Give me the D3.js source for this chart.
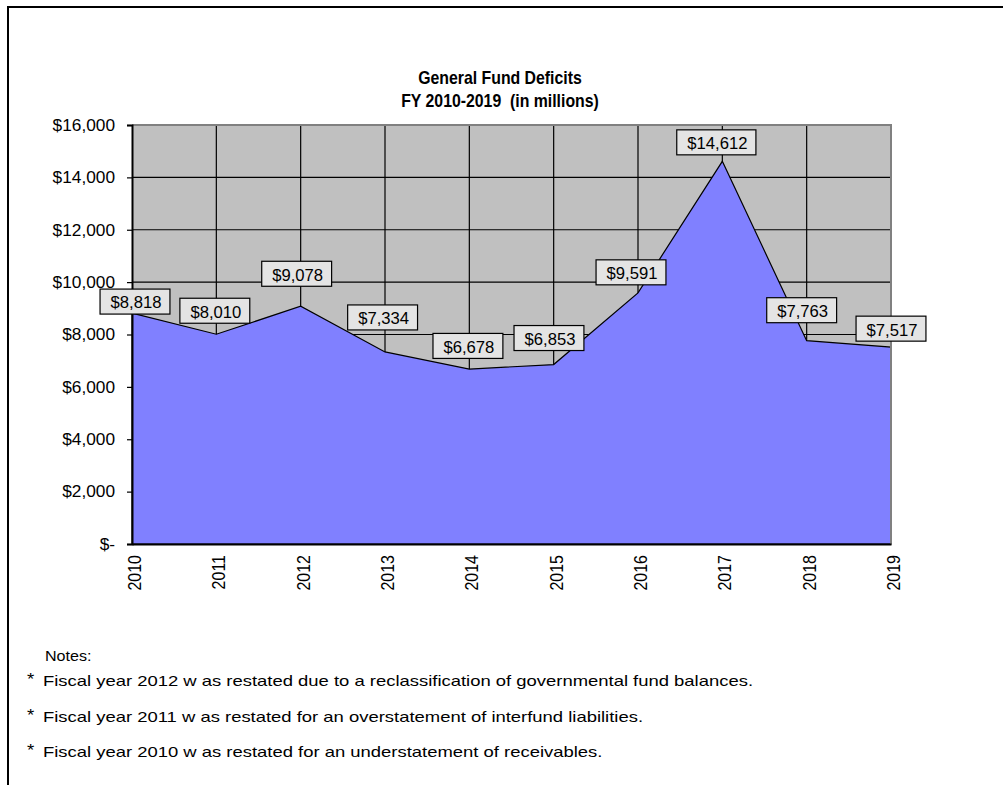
<!DOCTYPE html>
<html>
<head>
<meta charset="utf-8">
<script src="https://cdn.jsdelivr.net/npm/d3@7"></script>
<style>
  body { margin: 0; background: #fff; }
  text { font-family: "Liberation Sans", Arial, sans-serif; fill: #000; white-space: pre; }
</style>
</head>
<body>
<svg id="chart" width="1003" height="785"></svg>
<script>
// ---- data ----
const years = ["2010", "2011", "2012", "2013", "2014", "2015", "2016", "2017", "2018", "2019"];
const deficits = [8818, 8010, 9078, 7334, 6678, 6853, 9591, 14612, 7763, 7517];
const yTicks = [0, 2000, 4000, 6000, 8000, 10000, 12000, 14000, 16000];
const titleLines = ["General Fund Deficits", "FY 2010-2019  (in millions)"];
const notesHeading = "Notes:";
const notes = [
  "Fiscal year 2012 w as restated due to a reclassification of governmental fund balances.",
  "Fiscal year 2011 w as restated for an overstatement of interfund liabilities.",
  "Fiscal year 2010 w as restated for an understatement of receivables."
];

// ---- label placement nudges (pixels) ----
const labelShiftX = [3, -1.5, -4, -2.4, -1.4, -4.7, -7, -6, -5, 0];
const labelLift = [-1, 11, 20, 22, 10.7, 14, 8, 6.5, 18, 6];

const svg = d3.select("#chart");

const plot = { left: 132, right: 891, top: 125, bottom: 544 };

const x = d3.scalePoint().domain(years).range([plot.left, plot.right]);
const y = d3.scaleLinear().domain([0, 16000]).range([plot.bottom, plot.top]);

// outer frame (top and left edges)
svg.append("path")
  .attr("d", `M8,785 V7 H1003`)
  .attr("fill", "none").attr("stroke", "#000").attr("stroke-width", 2);

// text with a horizontal glyph stretch factor k
function placeText(sel, px, py, k, extra) {
  return sel.attr("transform", `translate(${px},${py}) scale(${k},1)` + (extra || ""));
}

// title
titleLines.forEach((t, i) => {
  placeText(svg.append("text"), 500, 84 + i * 23, 0.88)
    .attr("text-anchor", "middle")
    .attr("font-size", 18).attr("font-weight", "bold")
    .text(t);
});

// plot background
svg.append("rect")
  .attr("x", plot.left).attr("y", plot.top)
  .attr("width", plot.right - plot.left).attr("height", plot.bottom - plot.top)
  .attr("fill", "#c0c0c0");

// gridlines
svg.append("g").selectAll("line")
  .data(yTicks.filter(d => d > 0 && d < 16000))
  .join("line")
  .attr("x1", plot.left).attr("x2", plot.right)
  .attr("y1", d => y(d)).attr("y2", d => y(d))
  .attr("stroke", "#000").attr("stroke-width", 1.2);

svg.append("g").selectAll("line")
  .data(years.slice(1, -1))
  .join("line")
  .attr("x1", d => x(d)).attr("x2", d => x(d))
  .attr("y1", plot.top).attr("y2", plot.bottom)
  .attr("stroke", "#000").attr("stroke-width", 1.2);

// area
const area = d3.area()
  .x((d, i) => x(years[i]))
  .y0(y(0))
  .y1(d => y(d));

svg.append("path")
  .datum(deficits)
  .attr("d", area)
  .attr("fill", "#8080ff")
  .attr("stroke", "#000").attr("stroke-width", 1.2)
  .attr("stroke-linejoin", "miter");

// plot border (top and right)
svg.append("path")
  .attr("d", `M${plot.left},${plot.top} H${plot.right} V${plot.bottom}`)
  .attr("fill", "none").attr("stroke", "#808080").attr("stroke-width", 2);

// y axis
const yAxis = d3.axisLeft(y)
  .tickValues(yTicks)
  .tickSize(5)
  .tickPadding(12)
  .tickFormat(d => d === 0 ? "$-" : "$" + d3.format(",")(d));

const gy = svg.append("g").attr("transform", `translate(${plot.left},0)`).call(yAxis);
gy.select(".domain").attr("stroke", "#000").attr("stroke-width", 2);
gy.selectAll(".tick line").attr("stroke", "#000").attr("stroke-width", 1.2);
gy.selectAll(".tick text").each(function () {
  const t = d3.select(this);
  const tx = +t.attr("x");
  t.attr("x", null).attr("dy", null)
    .attr("dominant-baseline", "central")
    .attr("font-family", null)
    .attr("font-size", 16)
    .attr("transform", `translate(${tx},0) scale(1.08,1)`);
});

// x axis
const xAxis = d3.axisBottom(x).tickSize(0).tickPadding(0);
const gx = svg.append("g").attr("transform", `translate(0,${plot.bottom})`).call(xAxis);
gx.select(".domain").attr("stroke", "#000").attr("stroke-width", 2);
gx.selectAll(".tick text")
  .attr("y", null).attr("dy", null)
  .attr("font-family", null)
  .attr("font-size", 16)
  .attr("text-anchor", "end")
  .attr("dominant-baseline", "central")
  .attr("transform", `translate(2,11) scale(1.15,1) rotate(-90)`);

// value labels
const LK = 1.04;
const labels = svg.append("g").selectAll("g")
  .data(deficits)
  .join("g");

labels.each(function (d, i) {
  const g = d3.select(this);
  const txt = g.append("text")
    .attr("font-size", 16)
    .attr("text-anchor", "middle")
    .attr("dominant-baseline", "central")
    .text("$" + d3.format(",")(d));
  const w = txt.node().getComputedTextLength() * LK + 19;
  const h = 25;
  const cx = x(years[i]) + labelShiftX[i];
  const cy = y(d) - labelLift[i] - h / 2;
  g.insert("rect", "text")
    .attr("x", cx - w / 2).attr("y", cy - h / 2)
    .attr("width", w).attr("height", h)
    .attr("fill", "#e4e4e4").attr("stroke", "#000").attr("stroke-width", 1.2);
  txt.attr("transform", `translate(${cx + 1},${cy + 1}) scale(${LK},1)`);
});

// notes
placeText(svg.append("text"), 45, 661, 1.15).attr("font-size", 14).text(notesHeading);
notes.forEach((n, i) => {
  const by = 686 + i * 35.5;
  placeText(svg.append("text"), 27, by - 1, 1.1).attr("font-size", 17).text("*");
  placeText(svg.append("text"), 43, by, 1.23).attr("font-size", 15).text(n);
});
</script>
</body>
</html>
